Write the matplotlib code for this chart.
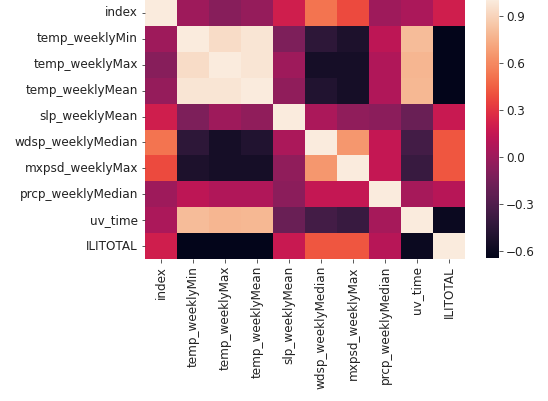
import numpy as np
import pandas as pd
import matplotlib
matplotlib.use('Agg')
import matplotlib.pyplot as plt
import seaborn as sns

labels = ['index', 'temp_weeklyMin', 'temp_weeklyMax', 'temp_weeklyMean',
          'slp_weeklyMean', 'wdsp_weeklyMedian', 'mxpsd_weeklyMax',
          'prcp_weeklyMedian', 'uv_time', 'ILITOTAL']

# upper triangle of the correlation matrix, row by row
r_index = [0.00, -0.08, -0.03, 0.20, 0.52, 0.38, 0.00, 0.05, 0.20]
r_tmin = [0.93, 0.97, -0.12, -0.45, -0.52, 0.12, 0.80, -0.64]
r_tmax = [0.97, 0.00, -0.55, -0.55, 0.07, 0.77, -0.645]
r_tmean = [-0.05, -0.50, -0.55, 0.07, 0.78, -0.645]
r_slp = [0.05, -0.05, -0.07, -0.20, 0.17]
r_wdsp = [0.65, 0.15, -0.35, 0.42]
r_mxpsd = [0.15, -0.40, 0.42]
r_prcp = [0.03, 0.10]
r_uv = [-0.60]

rows = [r_index, r_tmin, r_tmax, r_tmean, r_slp, r_wdsp, r_mxpsd, r_prcp, r_uv]
n = len(labels)
corr = np.eye(n)
for i, r in enumerate(rows):
    for k, v in enumerate(r):
        j = i + 1 + k
        corr[i, j] = v
        corr[j, i] = v
df = pd.DataFrame(corr, index=labels, columns=labels)

W, H = 548, 401
fig = plt.figure(figsize=(W / 72, H / 72), dpi=72)
ax = fig.add_axes([145 / W, 1 - 259 / H, 320 / W, 259 / H])
cax = fig.add_axes([486 / W, 1 - 258 / H, 13 / W, 258 / H])

sns.heatmap(df, ax=ax, cbar_ax=cax)
ax.tick_params(labelsize=12, colors='#333333', labelcolor='#222222')
cax.tick_params(labelsize=12, colors='#333333', labelcolor='#222222')
cax.set_yticks([-0.6, -0.3, 0.0, 0.3, 0.6, 0.9])
plt.setp(ax.get_xticklabels(), rotation=90)
plt.setp(ax.get_yticklabels(), rotation=0)

fig.savefig('out.png', dpi=72)
